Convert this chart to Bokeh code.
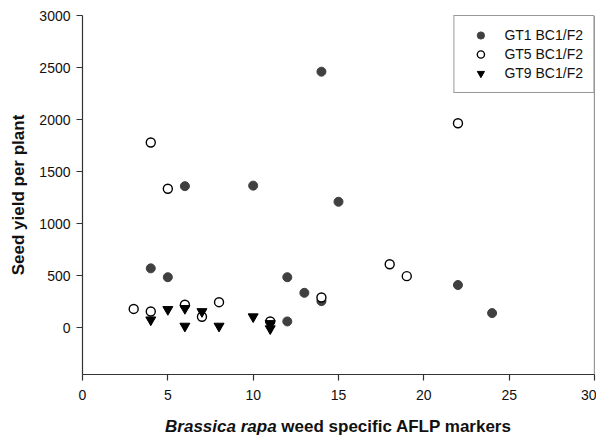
from bokeh.plotting import figure
from bokeh.layouts import column
from bokeh.models import Range1d, FixedTicker, Span, Legend, LegendItem, Div
from bokeh.embed import file_html
from bokeh.resources import INLINE

# ---- data ----
gt1_x = [4, 5, 6, 10, 12, 12, 13, 14, 14, 15, 22, 24]
gt1_y = [570, 485, 1360, 1365, 485, 60, 335, 2460, 255, 1210, 410, 140]

gt5_x = [3, 4, 4, 5, 6, 7, 8, 11, 14, 18, 19, 22]
gt5_y = [180, 155, 1780, 1335, 220, 105, 245, 60, 290, 610, 495, 1965]

gt9_x = [4, 5, 6, 6, 7, 8, 10, 11, 11]
gt9_y = [75, 175, 185, 15, 155, 15, 105, 40, -10]

series_names = ["GT1 BC1/F2", "GT5 BC1/F2", "GT9 BC1/F2"]
x_ticks = [0, 5, 10, 15, 20, 25, 30]
y_ticks = [0, 500, 1000, 1500, 2000, 2500, 3000]
x_title_italic = "Brassica rapa"
x_title_rest = "weed specific AFLP markers"
y_title = "Seed yield per plant"

FONT = "Liberation Sans"
AX = "#333333"
TXT = "#111111"

p = figure(width=596, height=410, output_backend="svg", toolbar_location=None,
           x_range=Range1d(0, 30), y_range=Range1d(-450, 3000),
           min_border_left=82, min_border_right=2, min_border_top=15, min_border_bottom=36)
p.outline_line_color = None
p.xgrid.visible = False
p.ygrid.visible = False

for ax in (p.xaxis[0], p.yaxis[0]):
    ax.axis_line_color = AX
    ax.axis_line_width = 1.2
    ax.major_tick_line_color = AX
    ax.major_tick_line_width = 1.2
    ax.major_tick_out = 6
    ax.major_tick_in = 0
    ax.minor_tick_line_color = None
    ax.major_label_text_font = FONT
    ax.major_label_text_font_size = "14px"
    ax.major_label_text_color = TXT

p.xaxis[0].ticker = FixedTicker(ticks=x_ticks)
p.yaxis[0].ticker = FixedTicker(ticks=y_ticks)
p.xaxis[0].major_label_standoff = 9
p.yaxis[0].major_label_standoff = 6

p.yaxis[0].axis_label = y_title
p.yaxis[0].axis_label_text_font = FONT
p.yaxis[0].axis_label_text_font_size = "17px"
p.yaxis[0].axis_label_text_font_style = "bold"
p.yaxis[0].axis_label_text_color = TXT
p.yaxis[0].axis_label_standoff = 8

# right border line
p.add_layout(Span(location=30, dimension="height", line_color=AX, line_width=1.2))

r1 = p.scatter(gt1_x, gt1_y, marker="circle", size=9, fill_color="#404040", line_color="#404040")
r2 = p.scatter(gt5_x, gt5_y, marker="circle", size=9, fill_color="white", line_color="black", line_width=1.4)
r3 = p.scatter(gt9_x, gt9_y, marker="inverted_triangle", size=10, fill_color="black", line_color="black")

legend = Legend(items=[LegendItem(label=series_names[0], renderers=[r1]),
                       LegendItem(label=series_names[1], renderers=[r2]),
                       LegendItem(label=series_names[2], renderers=[r3])],
                location="top_right", margin=0, padding=10, spacing=1,
                glyph_width=32, glyph_height=18, label_height=18, label_standoff=8,
                label_text_font=FONT, label_text_font_size="14px", label_text_color=TXT,
                border_line_color=AX, border_line_width=1.2, background_fill_alpha=1.0)
p.add_layout(legend, "center")

title = Div(text="<i>%s</i> %s" % (x_title_italic, x_title_rest),
            width=512, height=20, margin=(7, 0, 0, 82),
            styles={"font-family": FONT, "font-size": "17px", "font-weight": "bold",
                    "text-align": "center", "color": TXT, "line-height": "20px",
                    "width": "512px"})

layout = column(p, title, spacing=0)
open("out.html", "w").write(file_html(layout, INLINE))
